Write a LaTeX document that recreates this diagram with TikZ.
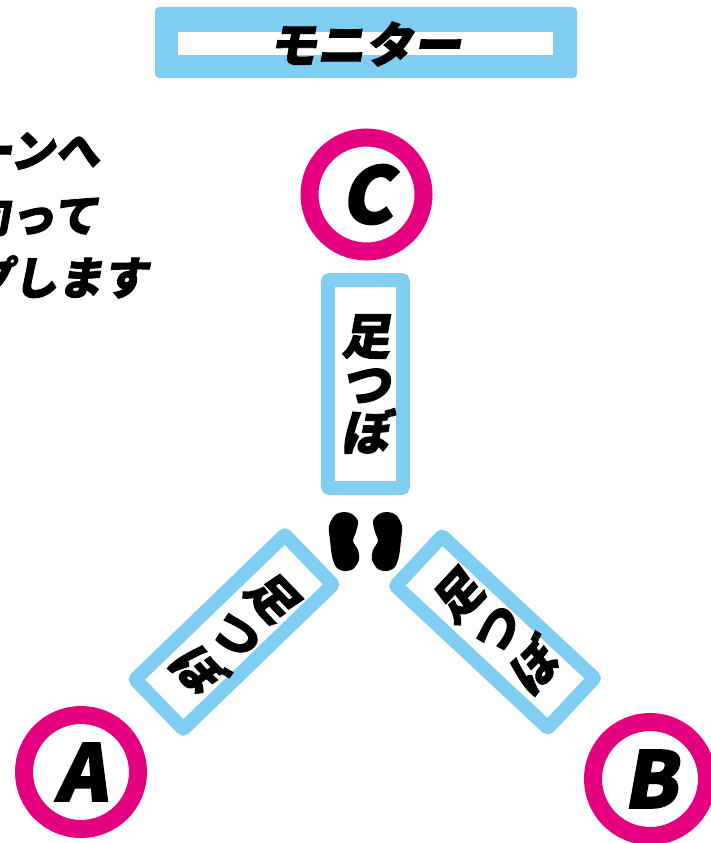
\documentclass[tikz,border=0pt]{standalone}
\usepackage{fontspec}
\newfontfamily\jp{Noto Sans CJK JP Black}[FakeSlant=0.18,FakeBold=2]
\definecolor{sky}{RGB}{128,205,242}
\definecolor{pink}{RGB}{228,0,127}
\begin{document}
\begin{tikzpicture}[x=1pt,y=-1pt,
  ring/.style={circle,draw=pink,line width=18pt,minimum size=114pt,inner sep=0pt,font=\jp\fontsize{78}{78}\selectfont},
  footbox/.style={draw=sky,line width=14pt,minimum height=208pt,inner sep=0pt,align=center,
    rounded corners=2pt},
  jtext/.style={font=\jp\fontsize{45}{45}\selectfont,inner sep=0pt,anchor=east},
  foot/.style={fill=black}]
\useasboundingbox (0,0) rectangle (711,843);
\clip (0,0) rectangle (711,843);
% monitor
\node[fill=sky,rounded corners=4pt,minimum width=422pt,minimum height=71pt,inner sep=0pt] (mon) at (366,42.5) {};
\node[fill=white,minimum width=375pt,minimum height=23pt,inner sep=0pt] (monin) at (365.5,43.5) {};
\node[font=\jp\fontsize{48}{48}\selectfont,inner sep=0pt] (montext) at (365,44) {モニター};
% left text
\node[jtext] (l1) at (100,151) {ーンへ};
\node[jtext] (l2) at (98,215) {向って};
\node[jtext] (l3) at (148,277) {プします};
% rings
\node[ring] (C) at (366.5,194.5) {C};
\node[ring] (A) at (81,772) {A};
\node[ring] (B) at (650,779) {B};
% boxes
\node[footbox,minimum width=75pt,font=\jp\fontsize{49}{48}\selectfont] (cbox) at (365.5,384) {足\\つ\\ぼ};
\node[footbox,minimum width=69pt,rotate=-46,font=\jp\fontsize{48}{52}\selectfont] (abox) at (234,632) {足\\つ\\ぼ};
\node[footbox,minimum width=68pt,rotate=47,font=\jp\fontsize{48}{52}\selectfont] (bbox) at (495,632) {足\\つ\\ぼ};
% footprints
\fill[foot] plot[smooth cycle] coordinates {(344,512) (352,514) (358,521) (356,532) (353,541) (358,550) (359,560) (353,569) (344,571) (336,567) (332,556) (330,540) (329,526) (335,515)};
\fill[foot] plot[smooth cycle] coordinates {(387,512) (379,514) (373,521) (375,532) (378,541) (373,550) (372,560) (378,569) (387,571) (395,567) (399,556) (401,540) (402,526) (396,515)};
\end{tikzpicture}
\end{document}
